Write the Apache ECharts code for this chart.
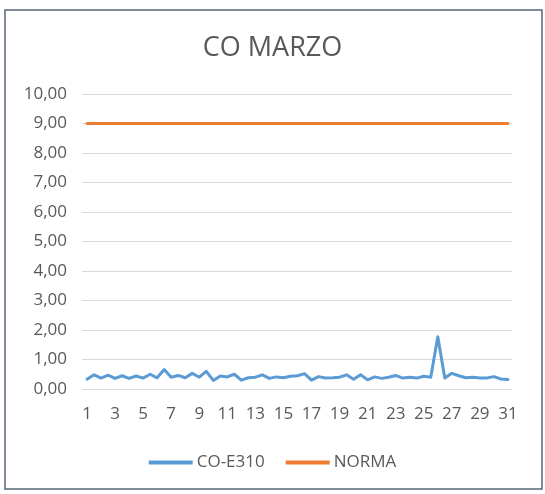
<!DOCTYPE html>
<html>
<head>
<meta charset="utf-8">
<style>
html,body{margin:0;padding:0;background:#fff;}
#chart{width:545px;height:494px;}
</style>
<script src="https://cdn.jsdelivr.net/npm/echarts@6/dist/echarts.min.js"></script>
</head>
<body>
<div id="chart"></div>
<script>
// Half-day sample positions (day of month)
const days = [1,1.5,2,2.5,3,3.5,4,4.5,5,5.5,6,6.5,7,7.5,8,8.5,9,9.5,10,10.5,11,11.5,12,12.5,13,13.5,14,14.5,15,15.5,16,16.5,17,17.5,18,18.5,19,19.5,20,20.5,21,21.5,22,22.5,23,23.5,24,24.5,25,25.5,26,26.5,27,27.5,28,28.5,29,29.5,30,30.5,31];
const coValues = [0.33,0.48,0.37,0.47,0.36,0.45,0.36,0.44,0.37,0.50,0.38,0.66,0.40,0.46,0.38,0.53,0.40,0.60,0.29,0.44,0.41,0.50,0.30,0.38,0.40,0.48,0.36,0.41,0.38,0.43,0.45,0.52,0.30,0.42,0.37,0.38,0.40,0.48,0.33,0.48,0.31,0.41,0.36,0.40,0.46,0.37,0.40,0.37,0.43,0.40,1.77,0.37,0.53,0.45,0.38,0.40,0.37,0.37,0.42,0.34,0.32];
const normaValues = [9,9,9,9,9,9,9,9,9,9,9,9,9,9,9,9,9,9,9,9,9,9,9,9,9,9,9,9,9,9,9,9,9,9,9,9,9,9,9,9,9,9,9,9,9,9,9,9,9,9,9,9,9,9,9,9,9,9,9,9,9];
const xTickLabels = [1,3,5,7,9,11,13,15,17,19,21,23,25,27,29,31];
const seriesNames = ['CO-E310','NORMA'];

const chart = echarts.init(document.getElementById('chart'));
const FONT = '"Open Sans", sans-serif';
const pair = (vals) => days.map((d, i) => [d, vals[i]]);

chart.setOption({
  animation: false,
  backgroundColor: '#ffffff',
  graphic: [{
    type: 'rect',
    shape: {x: 5, y: 10, width: 537, height: 479},
    style: {fill: 'none', stroke: '#56657a', lineWidth: 1.5},
    z: 100
  }],
  title: {
    text: 'CO MARZO',
    left: 'center',
    top: 30,
    textStyle: {fontFamily: FONT, fontSize: 27, fontWeight: 'normal', color: '#595959'}
  },
  legend: {
    data: seriesNames,
    left: 'center',
    top: 449,
    icon: 'rect',
    itemWidth: 44,
    itemHeight: 4,
    itemGap: 21,
    textStyle: {fontFamily: FONT, fontSize: 17, color: '#595959', padding: [0, 0, 0, -1]}
  },
  grid: {left: 82, right: 33, top: 94, bottom: 105, containLabel: false},
  xAxis: {
    type: 'value',
    min: 0.644,
    max: 31.29,
    axisLine: {show: false},
    axisTick: {show: false},
    splitLine: {show: false},
    axisLabel: {
      customValues: xTickLabels,
      margin: 17,
      fontFamily: FONT,
      fontSize: 17,
      color: '#595959'
    }
  },
  yAxis: {
    type: 'value',
    min: 0,
    max: 10,
    interval: 1,
    axisLine: {show: false},
    axisTick: {show: false},
    splitLine: {lineStyle: {color: '#d9d9d9', width: 1}},
    axisLabel: {
      margin: 15,
      fontFamily: FONT,
      fontSize: 17,
      color: '#595959',
      formatter: (v) => v.toFixed(2).replace('.', ',')
    }
  },
  series: [
    {
      name: seriesNames[0],
      type: 'line',
      data: pair(coValues),
      showSymbol: false,
      symbol: 'none',
      lineStyle: {color: '#5b9bd5', width: 3, cap: 'round', join: 'round'},
      itemStyle: {color: '#5b9bd5'}
    },
    {
      name: seriesNames[1],
      type: 'line',
      data: pair(normaValues),
      showSymbol: false,
      symbol: 'none',
      lineStyle: {color: '#ed7d31', width: 3, cap: 'round'},
      itemStyle: {color: '#ed7d31'}
    }
  ]
});
</script>
</body>
</html>
